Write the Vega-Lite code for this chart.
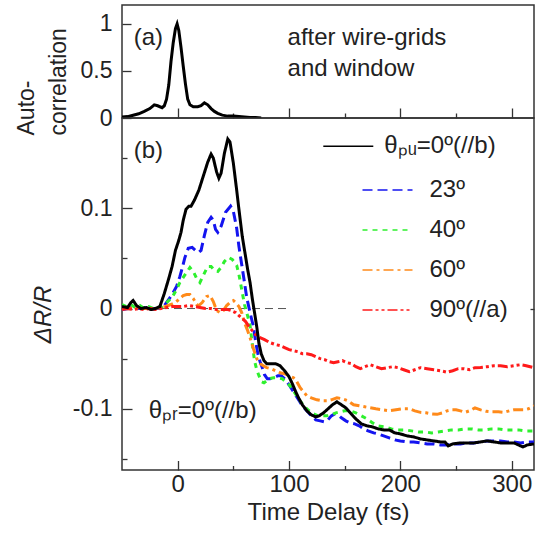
{
 "$schema": "https://vega.github.io/schema/vega-lite/v6.json",
 "padding": {"left": 14, "top": 4, "right": 6, "bottom": 2},
 "spacing": 0,
 "bounds": "flush",
 "config": {
  "font": "Liberation Sans",
  "view": {"stroke": "#333", "strokeWidth": 1.5},
  "axis": {"domain": false, "grid": false, "tickColor": "#333", "tickWidth": 1.3, "labelFont": "Liberation Sans", "labelFontSize": 23, "labelColor": "#222", "titleFont": "Liberation Sans", "titleFontSize": 24, "titleFontWeight": "normal", "titleColor": "#222"},
  "legend": {"labelFont": "Liberation Sans", "labelColor": "#222", "labelFontSize": 24, "padding": 0}
 },
 "datasets": {
  "ac": [
   {"t": -50, "v": 0.01}, {"t": -45, "v": 0.015}, {"t": -40, "v": 0.03}, {"t": -35, "v": 0.045}, {"t": -30, "v": 0.07}, {"t": -25, "v": 0.1}, {"t": -21, "v": 0.14}, {"t": -18, "v": 0.13}, {"t": -14, "v": 0.11}, {"t": -12, "v": 0.13}, {"t": -10, "v": 0.2}, {"t": -8, "v": 0.35}, {"t": -6, "v": 0.6}, {"t": -4, "v": 0.8}, {"t": -2, "v": 0.95}, {"t": -0.5, "v": 1.0}, {"t": 1, "v": 0.93}, {"t": 3, "v": 0.75}, {"t": 5, "v": 0.55}, {"t": 7, "v": 0.36}, {"t": 9, "v": 0.2}, {"t": 11, "v": 0.14}, {"t": 14, "v": 0.12}, {"t": 18, "v": 0.12}, {"t": 21, "v": 0.13}, {"t": 24, "v": 0.16}, {"t": 27, "v": 0.14}, {"t": 30, "v": 0.1}, {"t": 33, "v": 0.07}, {"t": 36, "v": 0.05}, {"t": 40, "v": 0.03}, {"t": 45, "v": 0.02}, {"t": 50, "v": 0.02}, {"t": 55, "v": 0.015}, {"t": 60, "v": 0.01}, {"t": 65, "v": 0.005}, {"t": 70, "v": 0.005}, {"t": 75, "v": 0.0}
  ],
  "one": [{}],
  "curves": [
   {"s": "θₚᵤ=0º(//b)", "t": -50, "v": 0.002}, {"s": "θₚᵤ=0º(//b)", "t": -45, "v": 0.001}, {"s": "θₚᵤ=0º(//b)", "t": -42, "v": 0.006}, {"s": "θₚᵤ=0º(//b)", "t": -40, "v": 0.008}, {"s": "θₚᵤ=0º(//b)", "t": -37, "v": 0.003}, {"s": "θₚᵤ=0º(//b)", "t": -33, "v": 0.0}, {"s": "θₚᵤ=0º(//b)", "t": -28, "v": 0.001}, {"s": "θₚᵤ=0º(//b)", "t": -24, "v": -0.001}, {"s": "θₚᵤ=0º(//b)", "t": -20, "v": 0.0}, {"s": "θₚᵤ=0º(//b)", "t": -16, "v": 0.002}, {"s": "θₚᵤ=0º(//b)", "t": -12, "v": 0.015}, {"s": "θₚᵤ=0º(//b)", "t": -8, "v": 0.03}, {"s": "θₚᵤ=0º(//b)", "t": -5, "v": 0.042}, {"s": "θₚᵤ=0º(//b)", "t": -2, "v": 0.058}, {"s": "θₚᵤ=0º(//b)", "t": 1, "v": 0.068}, {"s": "θₚᵤ=0º(//b)", "t": 3, "v": 0.076}, {"s": "θₚᵤ=0º(//b)", "t": 5, "v": 0.088}, {"s": "θₚᵤ=0º(//b)", "t": 7.5, "v": 0.099}, {"s": "θₚᵤ=0º(//b)", "t": 10, "v": 0.102}, {"s": "θₚᵤ=0º(//b)", "t": 12, "v": 0.102}, {"s": "θₚᵤ=0º(//b)", "t": 15, "v": 0.108}, {"s": "θₚᵤ=0º(//b)", "t": 19, "v": 0.118}, {"s": "θₚᵤ=0º(//b)", "t": 23, "v": 0.132}, {"s": "θₚᵤ=0º(//b)", "t": 27, "v": 0.146}, {"s": "θₚᵤ=0º(//b)", "t": 30, "v": 0.154}, {"s": "θₚᵤ=0º(//b)", "t": 32, "v": 0.15}, {"s": "θₚᵤ=0º(//b)", "t": 35, "v": 0.136}, {"s": "θₚᵤ=0º(//b)", "t": 37, "v": 0.13}, {"s": "θₚᵤ=0º(//b)", "t": 39, "v": 0.135}, {"s": "θₚᵤ=0º(//b)", "t": 42, "v": 0.155}, {"s": "θₚᵤ=0º(//b)", "t": 45, "v": 0.169}, {"s": "θₚᵤ=0º(//b)", "t": 47, "v": 0.166}, {"s": "θₚᵤ=0º(//b)", "t": 50, "v": 0.145}, {"s": "θₚᵤ=0º(//b)", "t": 53, "v": 0.118}, {"s": "θₚᵤ=0º(//b)", "t": 55, "v": 0.099}, {"s": "θₚᵤ=0º(//b)", "t": 58, "v": 0.072}, {"s": "θₚᵤ=0º(//b)", "t": 60.5, "v": 0.055}, {"s": "θₚᵤ=0º(//b)", "t": 63, "v": 0.038}, {"s": "θₚᵤ=0º(//b)", "t": 65, "v": 0.026}, {"s": "θₚᵤ=0º(//b)", "t": 67, "v": 0.01}, {"s": "θₚᵤ=0º(//b)", "t": 69, "v": -0.004}, {"s": "θₚᵤ=0º(//b)", "t": 71, "v": -0.018}, {"s": "θₚᵤ=0º(//b)", "t": 73, "v": -0.035}, {"s": "θₚᵤ=0º(//b)", "t": 75, "v": -0.045}, {"s": "θₚᵤ=0º(//b)", "t": 77.5, "v": -0.052}, {"s": "θₚᵤ=0º(//b)", "t": 80, "v": -0.055}, {"s": "θₚᵤ=0º(//b)", "t": 84, "v": -0.055}, {"s": "θₚᵤ=0º(//b)", "t": 88, "v": -0.055}, {"s": "θₚᵤ=0º(//b)", "t": 92, "v": -0.057}, {"s": "θₚᵤ=0º(//b)", "t": 96, "v": -0.062}, {"s": "θₚᵤ=0º(//b)", "t": 100, "v": -0.068}, {"s": "θₚᵤ=0º(//b)", "t": 103, "v": -0.075}, {"s": "θₚᵤ=0º(//b)", "t": 106, "v": -0.083}, {"s": "θₚᵤ=0º(//b)", "t": 109, "v": -0.09}, {"s": "θₚᵤ=0º(//b)", "t": 112, "v": -0.096}, {"s": "θₚᵤ=0º(//b)", "t": 116, "v": -0.102}, {"s": "θₚᵤ=0º(//b)", "t": 120, "v": -0.106}, {"s": "θₚᵤ=0º(//b)", "t": 124, "v": -0.108}, {"s": "θₚᵤ=0º(//b)", "t": 127, "v": -0.107}, {"s": "θₚᵤ=0º(//b)", "t": 131, "v": -0.104}, {"s": "θₚᵤ=0º(//b)", "t": 135, "v": -0.1}, {"s": "θₚᵤ=0º(//b)", "t": 139, "v": -0.096}, {"s": "θₚᵤ=0º(//b)", "t": 143, "v": -0.093}, {"s": "θₚᵤ=0º(//b)", "t": 147, "v": -0.096}, {"s": "θₚᵤ=0º(//b)", "t": 151, "v": -0.099}, {"s": "θₚᵤ=0º(//b)", "t": 155, "v": -0.104}, {"s": "θₚᵤ=0º(//b)", "t": 160, "v": -0.11}, {"s": "θₚᵤ=0º(//b)", "t": 165, "v": -0.115}, {"s": "θₚᵤ=0º(//b)", "t": 170, "v": -0.117}, {"s": "θₚᵤ=0º(//b)", "t": 175, "v": -0.118}, {"s": "θₚᵤ=0º(//b)", "t": 180, "v": -0.12}, {"s": "θₚᵤ=0º(//b)", "t": 185, "v": -0.121}, {"s": "θₚᵤ=0º(//b)", "t": 190, "v": -0.121}, {"s": "θₚᵤ=0º(//b)", "t": 195, "v": -0.124}, {"s": "θₚᵤ=0º(//b)", "t": 200, "v": -0.125}, {"s": "θₚᵤ=0º(//b)", "t": 206, "v": -0.127}, {"s": "θₚᵤ=0º(//b)", "t": 212, "v": -0.128}, {"s": "θₚᵤ=0º(//b)", "t": 218, "v": -0.13}, {"s": "θₚᵤ=0º(//b)", "t": 224, "v": -0.131}, {"s": "θₚᵤ=0º(//b)", "t": 230, "v": -0.132}, {"s": "θₚᵤ=0º(//b)", "t": 236, "v": -0.133}, {"s": "θₚᵤ=0º(//b)", "t": 240, "v": -0.133}, {"s": "θₚᵤ=0º(//b)", "t": 243, "v": -0.137}, {"s": "θₚᵤ=0º(//b)", "t": 247, "v": -0.135}, {"s": "θₚᵤ=0º(//b)", "t": 254, "v": -0.134}, {"s": "θₚᵤ=0º(//b)", "t": 260, "v": -0.134}, {"s": "θₚᵤ=0º(//b)", "t": 266, "v": -0.134}, {"s": "θₚᵤ=0º(//b)", "t": 272, "v": -0.133}, {"s": "θₚᵤ=0º(//b)", "t": 278, "v": -0.132}, {"s": "θₚᵤ=0º(//b)", "t": 284, "v": -0.133}, {"s": "θₚᵤ=0º(//b)", "t": 290, "v": -0.134}, {"s": "θₚᵤ=0º(//b)", "t": 296, "v": -0.134}, {"s": "θₚᵤ=0º(//b)", "t": 302, "v": -0.134}, {"s": "θₚᵤ=0º(//b)", "t": 306, "v": -0.136}, {"s": "θₚᵤ=0º(//b)", "t": 310, "v": -0.138}, {"s": "θₚᵤ=0º(//b)", "t": 314, "v": -0.136}, {"s": "θₚᵤ=0º(//b)", "t": 320, "v": -0.135},
   {"s": "23º", "t": -50, "v": -0.001}, {"s": "23º", "t": -45, "v": 0.0}, {"s": "23º", "t": -40, "v": 0.002}, {"s": "23º", "t": -35, "v": 0.0}, {"s": "23º", "t": -30, "v": 0.001}, {"s": "23º", "t": -25, "v": -0.001}, {"s": "23º", "t": -20, "v": 0.0}, {"s": "23º", "t": -17, "v": 0.0}, {"s": "23º", "t": -12, "v": 0.003}, {"s": "23º", "t": -8, "v": 0.009}, {"s": "23º", "t": -4, "v": 0.016}, {"s": "23º", "t": -1, "v": 0.022}, {"s": "23º", "t": 2, "v": 0.032}, {"s": "23º", "t": 4, "v": 0.04}, {"s": "23º", "t": 6.5, "v": 0.051}, {"s": "23º", "t": 9.5, "v": 0.06}, {"s": "23º", "t": 13, "v": 0.061}, {"s": "23º", "t": 16, "v": 0.058}, {"s": "23º", "t": 19, "v": 0.056}, {"s": "23º", "t": 21, "v": 0.058}, {"s": "23º", "t": 24, "v": 0.073}, {"s": "23º", "t": 27, "v": 0.086}, {"s": "23º", "t": 30, "v": 0.091}, {"s": "23º", "t": 32, "v": 0.088}, {"s": "23º", "t": 34, "v": 0.079}, {"s": "23º", "t": 36, "v": 0.076}, {"s": "23º", "t": 39, "v": 0.082}, {"s": "23º", "t": 43, "v": 0.096}, {"s": "23º", "t": 47.5, "v": 0.102}, {"s": "23º", "t": 50, "v": 0.097}, {"s": "23º", "t": 53, "v": 0.08}, {"s": "23º", "t": 55, "v": 0.062}, {"s": "23º", "t": 57.5, "v": 0.044}, {"s": "23º", "t": 60, "v": 0.026}, {"s": "23º", "t": 62, "v": 0.011}, {"s": "23º", "t": 65, "v": -0.004}, {"s": "23º", "t": 68, "v": -0.018}, {"s": "23º", "t": 70, "v": -0.033}, {"s": "23º", "t": 72, "v": -0.045}, {"s": "23º", "t": 74, "v": -0.053}, {"s": "23º", "t": 76, "v": -0.059}, {"s": "23º", "t": 78, "v": -0.066}, {"s": "23º", "t": 80.5, "v": -0.07}, {"s": "23º", "t": 83, "v": -0.07}, {"s": "23º", "t": 86, "v": -0.069}, {"s": "23º", "t": 90, "v": -0.067}, {"s": "23º", "t": 93, "v": -0.067}, {"s": "23º", "t": 97, "v": -0.071}, {"s": "23º", "t": 100, "v": -0.076}, {"s": "23º", "t": 104, "v": -0.083}, {"s": "23º", "t": 108, "v": -0.09}, {"s": "23º", "t": 112, "v": -0.097}, {"s": "23º", "t": 116, "v": -0.102}, {"s": "23º", "t": 120, "v": -0.107}, {"s": "23º", "t": 124, "v": -0.111}, {"s": "23º", "t": 128, "v": -0.112}, {"s": "23º", "t": 132, "v": -0.113}, {"s": "23º", "t": 135, "v": -0.111}, {"s": "23º", "t": 138, "v": -0.107}, {"s": "23º", "t": 141, "v": -0.105}, {"s": "23º", "t": 144, "v": -0.106}, {"s": "23º", "t": 147, "v": -0.109}, {"s": "23º", "t": 151, "v": -0.112}, {"s": "23º", "t": 155, "v": -0.114}, {"s": "23º", "t": 159, "v": -0.115}, {"s": "23º", "t": 163, "v": -0.117}, {"s": "23º", "t": 167, "v": -0.12}, {"s": "23º", "t": 171, "v": -0.122}, {"s": "23º", "t": 176, "v": -0.124}, {"s": "23º", "t": 180, "v": -0.125}, {"s": "23º", "t": 185, "v": -0.127}, {"s": "23º", "t": 190, "v": -0.129}, {"s": "23º", "t": 195, "v": -0.131}, {"s": "23º", "t": 200, "v": -0.132}, {"s": "23º", "t": 206, "v": -0.133}, {"s": "23º", "t": 212, "v": -0.133}, {"s": "23º", "t": 218, "v": -0.134}, {"s": "23º", "t": 224, "v": -0.135}, {"s": "23º", "t": 230, "v": -0.135}, {"s": "23º", "t": 236, "v": -0.136}, {"s": "23º", "t": 242, "v": -0.136}, {"s": "23º", "t": 248, "v": -0.135}, {"s": "23º", "t": 254, "v": -0.135}, {"s": "23º", "t": 260, "v": -0.134}, {"s": "23º", "t": 266, "v": -0.134}, {"s": "23º", "t": 272, "v": -0.133}, {"s": "23º", "t": 278, "v": -0.132}, {"s": "23º", "t": 284, "v": -0.132}, {"s": "23º", "t": 290, "v": -0.132}, {"s": "23º", "t": 296, "v": -0.133}, {"s": "23º", "t": 302, "v": -0.133}, {"s": "23º", "t": 308, "v": -0.134}, {"s": "23º", "t": 314, "v": -0.133}, {"s": "23º", "t": 320, "v": -0.133},
   {"s": "40º", "t": -50, "v": 0.004}, {"s": "40º", "t": -46, "v": 0.002}, {"s": "40º", "t": -42, "v": 0.004}, {"s": "40º", "t": -38, "v": 0.001}, {"s": "40º", "t": -34, "v": 0.003}, {"s": "40º", "t": -30, "v": 0.0}, {"s": "40º", "t": -26, "v": 0.002}, {"s": "40º", "t": -22, "v": 0.0}, {"s": "40º", "t": -18, "v": 0.001}, {"s": "40º", "t": -14, "v": 0.002}, {"s": "40º", "t": -10, "v": 0.006}, {"s": "40º", "t": -5, "v": 0.011}, {"s": "40º", "t": -1, "v": 0.019}, {"s": "40º", "t": 2, "v": 0.026}, {"s": "40º", "t": 5, "v": 0.031}, {"s": "40º", "t": 8, "v": 0.036}, {"s": "40º", "t": 11, "v": 0.041}, {"s": "40º", "t": 14, "v": 0.037}, {"s": "40º", "t": 17, "v": 0.03}, {"s": "40º", "t": 20, "v": 0.026}, {"s": "40º", "t": 23, "v": 0.033}, {"s": "40º", "t": 27, "v": 0.042}, {"s": "40º", "t": 30, "v": 0.042}, {"s": "40º", "t": 33, "v": 0.038}, {"s": "40º", "t": 36, "v": 0.037}, {"s": "40º", "t": 39, "v": 0.041}, {"s": "40º", "t": 42, "v": 0.047}, {"s": "40º", "t": 45.5, "v": 0.051}, {"s": "40º", "t": 49, "v": 0.049}, {"s": "40º", "t": 53, "v": 0.043}, {"s": "40º", "t": 55, "v": 0.034}, {"s": "40º", "t": 57, "v": 0.022}, {"s": "40º", "t": 60, "v": 0.004}, {"s": "40º", "t": 63, "v": -0.008}, {"s": "40º", "t": 65, "v": -0.017}, {"s": "40º", "t": 67, "v": -0.035}, {"s": "40º", "t": 69, "v": -0.052}, {"s": "40º", "t": 71, "v": -0.061}, {"s": "40º", "t": 73, "v": -0.067}, {"s": "40º", "t": 75.5, "v": -0.073}, {"s": "40º", "t": 77.5, "v": -0.074}, {"s": "40º", "t": 80, "v": -0.072}, {"s": "40º", "t": 82, "v": -0.07}, {"s": "40º", "t": 86, "v": -0.069}, {"s": "40º", "t": 90, "v": -0.069}, {"s": "40º", "t": 94, "v": -0.07}, {"s": "40º", "t": 98, "v": -0.074}, {"s": "40º", "t": 101, "v": -0.077}, {"s": "40º", "t": 105, "v": -0.084}, {"s": "40º", "t": 110, "v": -0.092}, {"s": "40º", "t": 114, "v": -0.098}, {"s": "40º", "t": 118, "v": -0.102}, {"s": "40º", "t": 122, "v": -0.105}, {"s": "40º", "t": 126, "v": -0.107}, {"s": "40º", "t": 130, "v": -0.107}, {"s": "40º", "t": 134, "v": -0.107}, {"s": "40º", "t": 138, "v": -0.106}, {"s": "40º", "t": 142, "v": -0.104}, {"s": "40º", "t": 146, "v": -0.103}, {"s": "40º", "t": 150, "v": -0.102}, {"s": "40º", "t": 155, "v": -0.102}, {"s": "40º", "t": 160, "v": -0.104}, {"s": "40º", "t": 165, "v": -0.107}, {"s": "40º", "t": 170, "v": -0.11}, {"s": "40º", "t": 175, "v": -0.114}, {"s": "40º", "t": 180, "v": -0.117}, {"s": "40º", "t": 186, "v": -0.118}, {"s": "40º", "t": 192, "v": -0.12}, {"s": "40º", "t": 198, "v": -0.121}, {"s": "40º", "t": 204, "v": -0.121}, {"s": "40º", "t": 210, "v": -0.122}, {"s": "40º", "t": 216, "v": -0.123}, {"s": "40º", "t": 222, "v": -0.123}, {"s": "40º", "t": 228, "v": -0.124}, {"s": "40º", "t": 234, "v": -0.123}, {"s": "40º", "t": 240, "v": -0.122}, {"s": "40º", "t": 246, "v": -0.121}, {"s": "40º", "t": 252, "v": -0.121}, {"s": "40º", "t": 258, "v": -0.12}, {"s": "40º", "t": 264, "v": -0.12}, {"s": "40º", "t": 270, "v": -0.121}, {"s": "40º", "t": 276, "v": -0.121}, {"s": "40º", "t": 282, "v": -0.12}, {"s": "40º", "t": 288, "v": -0.12}, {"s": "40º", "t": 294, "v": -0.121}, {"s": "40º", "t": 300, "v": -0.121}, {"s": "40º", "t": 306, "v": -0.121}, {"s": "40º", "t": 312, "v": -0.122}, {"s": "40º", "t": 320, "v": -0.122},
   {"s": "60º", "t": -50, "v": 0.0}, {"s": "60º", "t": -45, "v": 0.001}, {"s": "60º", "t": -40, "v": 0.0}, {"s": "60º", "t": -35, "v": 0.001}, {"s": "60º", "t": -30, "v": 0.0}, {"s": "60º", "t": -25, "v": 0.0}, {"s": "60º", "t": -20, "v": 0.0}, {"s": "60º", "t": -15, "v": 0.001}, {"s": "60º", "t": -11, "v": 0.002}, {"s": "60º", "t": -6, "v": 0.004}, {"s": "60º", "t": -2, "v": 0.006}, {"s": "60º", "t": 2, "v": 0.01}, {"s": "60º", "t": 5, "v": 0.013}, {"s": "60º", "t": 8, "v": 0.014}, {"s": "60º", "t": 11, "v": 0.014}, {"s": "60º", "t": 14, "v": 0.01}, {"s": "60º", "t": 17, "v": 0.004}, {"s": "60º", "t": 19, "v": 0.003}, {"s": "60º", "t": 22, "v": 0.006}, {"s": "60º", "t": 26, "v": 0.012}, {"s": "60º", "t": 29, "v": 0.013}, {"s": "60º", "t": 32, "v": 0.007}, {"s": "60º", "t": 35, "v": -0.002}, {"s": "60º", "t": 38, "v": -0.004}, {"s": "60º", "t": 41, "v": -0.002}, {"s": "60º", "t": 44, "v": 0.003}, {"s": "60º", "t": 47, "v": 0.006}, {"s": "60º", "t": 50, "v": 0.008}, {"s": "60º", "t": 52, "v": 0.006}, {"s": "60º", "t": 55, "v": 0.002}, {"s": "60º", "t": 57.5, "v": -0.004}, {"s": "60º", "t": 60, "v": -0.014}, {"s": "60º", "t": 62.5, "v": -0.021}, {"s": "60º", "t": 65, "v": -0.029}, {"s": "60º", "t": 68, "v": -0.04}, {"s": "60º", "t": 71, "v": -0.05}, {"s": "60º", "t": 74, "v": -0.055}, {"s": "60º", "t": 77, "v": -0.057}, {"s": "60º", "t": 80, "v": -0.059}, {"s": "60º", "t": 84, "v": -0.06}, {"s": "60º", "t": 88, "v": -0.062}, {"s": "60º", "t": 92, "v": -0.064}, {"s": "60º", "t": 96, "v": -0.065}, {"s": "60º", "t": 100, "v": -0.067}, {"s": "60º", "t": 104, "v": -0.069}, {"s": "60º", "t": 107, "v": -0.073}, {"s": "60º", "t": 110, "v": -0.079}, {"s": "60º", "t": 113, "v": -0.083}, {"s": "60º", "t": 116, "v": -0.087}, {"s": "60º", "t": 120, "v": -0.089}, {"s": "60º", "t": 125, "v": -0.091}, {"s": "60º", "t": 130, "v": -0.092}, {"s": "60º", "t": 134, "v": -0.092}, {"s": "60º", "t": 138, "v": -0.091}, {"s": "60º", "t": 143, "v": -0.089}, {"s": "60º", "t": 148, "v": -0.09}, {"s": "60º", "t": 153, "v": -0.092}, {"s": "60º", "t": 158, "v": -0.096}, {"s": "60º", "t": 163, "v": -0.097}, {"s": "60º", "t": 168, "v": -0.098}, {"s": "60º", "t": 173, "v": -0.099}, {"s": "60º", "t": 178, "v": -0.1}, {"s": "60º", "t": 184, "v": -0.101}, {"s": "60º", "t": 190, "v": -0.102}, {"s": "60º", "t": 196, "v": -0.101}, {"s": "60º", "t": 202, "v": -0.1}, {"s": "60º", "t": 208, "v": -0.1}, {"s": "60º", "t": 213, "v": -0.102}, {"s": "60º", "t": 218, "v": -0.1035}, {"s": "60º", "t": 223, "v": -0.104}, {"s": "60º", "t": 228, "v": -0.105}, {"s": "60º", "t": 233, "v": -0.1055}, {"s": "60º", "t": 238, "v": -0.104}, {"s": "60º", "t": 242, "v": -0.102}, {"s": "60º", "t": 246, "v": -0.101}, {"s": "60º", "t": 250, "v": -0.101}, {"s": "60º", "t": 254, "v": -0.102}, {"s": "60º", "t": 258, "v": -0.1035}, {"s": "60º", "t": 262, "v": -0.102}, {"s": "60º", "t": 267, "v": -0.099}, {"s": "60º", "t": 272, "v": -0.101}, {"s": "60º", "t": 277, "v": -0.1025}, {"s": "60º", "t": 282, "v": -0.103}, {"s": "60º", "t": 288, "v": -0.103}, {"s": "60º", "t": 293, "v": -0.1035}, {"s": "60º", "t": 298, "v": -0.102}, {"s": "60º", "t": 302, "v": -0.101}, {"s": "60º", "t": 306, "v": -0.101}, {"s": "60º", "t": 311, "v": -0.101}, {"s": "60º", "t": 315, "v": -0.1}, {"s": "60º", "t": 320, "v": -0.097},
   {"s": "90º(//a)", "t": -50, "v": -0.001}, {"s": "90º(//a)", "t": -45, "v": 0.0}, {"s": "90º(//a)", "t": -40, "v": -0.001}, {"s": "90º(//a)", "t": -35, "v": 0.0}, {"s": "90º(//a)", "t": -30, "v": -0.001}, {"s": "90º(//a)", "t": -25, "v": 0.0}, {"s": "90º(//a)", "t": -20, "v": -0.001}, {"s": "90º(//a)", "t": -15, "v": 0.0}, {"s": "90º(//a)", "t": -10, "v": 0.001}, {"s": "90º(//a)", "t": -5, "v": 0.002}, {"s": "90º(//a)", "t": 0, "v": 0.002}, {"s": "90º(//a)", "t": 5, "v": 0.002}, {"s": "90º(//a)", "t": 10, "v": 0.003}, {"s": "90º(//a)", "t": 15, "v": 0.002}, {"s": "90º(//a)", "t": 20, "v": 0.001}, {"s": "90º(//a)", "t": 25, "v": 0.0}, {"s": "90º(//a)", "t": 30, "v": 0.0}, {"s": "90º(//a)", "t": 35, "v": -0.001}, {"s": "90º(//a)", "t": 40, "v": -0.001}, {"s": "90º(//a)", "t": 45, "v": -0.001}, {"s": "90º(//a)", "t": 48, "v": -0.002}, {"s": "90º(//a)", "t": 52, "v": -0.004}, {"s": "90º(//a)", "t": 55, "v": -0.007}, {"s": "90º(//a)", "t": 58, "v": -0.01}, {"s": "90º(//a)", "t": 61, "v": -0.013}, {"s": "90º(//a)", "t": 64, "v": -0.018}, {"s": "90º(//a)", "t": 67, "v": -0.022}, {"s": "90º(//a)", "t": 70, "v": -0.026}, {"s": "90º(//a)", "t": 74, "v": -0.029}, {"s": "90º(//a)", "t": 78, "v": -0.031}, {"s": "90º(//a)", "t": 83, "v": -0.034}, {"s": "90º(//a)", "t": 88, "v": -0.036}, {"s": "90º(//a)", "t": 92, "v": -0.037}, {"s": "90º(//a)", "t": 96, "v": -0.039}, {"s": "90º(//a)", "t": 100, "v": -0.041}, {"s": "90º(//a)", "t": 104, "v": -0.042}, {"s": "90º(//a)", "t": 108, "v": -0.043}, {"s": "90º(//a)", "t": 112, "v": -0.045}, {"s": "90º(//a)", "t": 116, "v": -0.045}, {"s": "90º(//a)", "t": 120, "v": -0.046}, {"s": "90º(//a)", "t": 124, "v": -0.048}, {"s": "90º(//a)", "t": 128, "v": -0.05}, {"s": "90º(//a)", "t": 132, "v": -0.051}, {"s": "90º(//a)", "t": 136, "v": -0.053}, {"s": "90º(//a)", "t": 140, "v": -0.054}, {"s": "90º(//a)", "t": 144, "v": -0.053}, {"s": "90º(//a)", "t": 148, "v": -0.052}, {"s": "90º(//a)", "t": 152, "v": -0.054}, {"s": "90º(//a)", "t": 156, "v": -0.055}, {"s": "90º(//a)", "t": 160, "v": -0.058}, {"s": "90º(//a)", "t": 164, "v": -0.06}, {"s": "90º(//a)", "t": 168, "v": -0.058}, {"s": "90º(//a)", "t": 173, "v": -0.056}, {"s": "90º(//a)", "t": 178, "v": -0.058}, {"s": "90º(//a)", "t": 183, "v": -0.06}, {"s": "90º(//a)", "t": 188, "v": -0.059}, {"s": "90º(//a)", "t": 193, "v": -0.058}, {"s": "90º(//a)", "t": 198, "v": -0.059}, {"s": "90º(//a)", "t": 203, "v": -0.061}, {"s": "90º(//a)", "t": 208, "v": -0.063}, {"s": "90º(//a)", "t": 213, "v": -0.061}, {"s": "90º(//a)", "t": 218, "v": -0.059}, {"s": "90º(//a)", "t": 224, "v": -0.06}, {"s": "90º(//a)", "t": 230, "v": -0.061}, {"s": "90º(//a)", "t": 236, "v": -0.062}, {"s": "90º(//a)", "t": 242, "v": -0.0635}, {"s": "90º(//a)", "t": 247, "v": -0.062}, {"s": "90º(//a)", "t": 252, "v": -0.06}, {"s": "90º(//a)", "t": 257, "v": -0.06}, {"s": "90º(//a)", "t": 262, "v": -0.061}, {"s": "90º(//a)", "t": 267, "v": -0.059}, {"s": "90º(//a)", "t": 272, "v": -0.0587}, {"s": "90º(//a)", "t": 278, "v": -0.058}, {"s": "90º(//a)", "t": 284, "v": -0.057}, {"s": "90º(//a)", "t": 290, "v": -0.057}, {"s": "90º(//a)", "t": 296, "v": -0.058}, {"s": "90º(//a)", "t": 302, "v": -0.057}, {"s": "90º(//a)", "t": 308, "v": -0.056}, {"s": "90º(//a)", "t": 313, "v": -0.057}, {"s": "90º(//a)", "t": 320, "v": -0.059}
  ]
 },
 "vconcat": [
  {
   "width": 412,
   "height": 113,
   "layer": [
    {
     "data": {"name": "ac"},
     "mark": {"type": "line", "color": "#000", "strokeWidth": 3, "clip": true},
     "encoding": {
      "x": {"field": "t", "type": "quantitative", "scale": {"domain": [-50, 320], "nice": false, "zero": false},
            "axis": {"values": [0, 100, 200, 300], "labels": false, "tickSize": -10, "title": null, "orient": "bottom"}},
      "y": {"field": "v", "type": "quantitative", "scale": {"domain": [0, 1.2], "nice": false},
            "axis": {"values": [0, 0.5, 1], "tickSize": -9, "labelPadding": 19, "labelExpr": "datum.value == 0.5 ? '0.5' : format(datum.value, 'd')", "orient": "left",
                     "title": ["Auto-", "correlation"], "titleFontSize": 23, "titleAngle": -90, "titleX": -96, "titleY": 130, "titleAlign": "left", "titleBaseline": "middle", "titleLineHeight": 32}}
     }
    },
    {
     "data": {"name": "one"},
     "mark": {"type": "text", "text": "(a)", "fontSize": 24, "align": "left", "baseline": "middle", "color": "#222"},
     "encoding": {
      "x": {"datum": -39.5, "type": "quantitative", "axis": {"values": [50, 150, 250], "labels": false, "tickSize": -5, "title": null, "orient": "bottom"}},
      "y": {"datum": 0.85, "type": "quantitative", "axis": null}
     }
    },
    {
     "data": {"name": "one"},
     "mark": {"type": "text", "text": ["after wire-grids", "and window"], "fontSize": 24, "lineHeight": 31, "align": "left", "baseline": "middle", "color": "#222"},
     "encoding": {
      "x": {"datum": 98.7, "type": "quantitative", "axis": null},
      "y": {"datum": 0.85, "type": "quantitative", "axis": null}
     }
    }
   ],
   "resolve": {"axis": {"x": "independent", "y": "independent"}}
  },
  {
   "width": 412,
   "height": 352,
   "layer": [
    {
     "data": {"name": "one"},
     "mark": {"type": "rule", "strokeDash": [8, 5], "color": "#555", "strokeWidth": 1},
     "encoding": {
      "x": {"datum": -50, "type": "quantitative", "scale": {"domain": [-50, 320], "nice": false, "zero": false}, "axis": {"values": [50, 150, 250], "labels": false, "tickSize": -4.5, "title": null, "orient": "bottom"}},
      "x2": {"datum": 100},
      "y": {"datum": 0, "type": "quantitative", "scale": {"domain": [-0.161, 0.19], "nice": false, "zero": false}, "axis": {"values": [-0.15, -0.05, 0.05, 0.15], "labels": false, "tickSize": -5, "title": null, "orient": "left"}}
     }
    },
    {
     "data": {"name": "curves"},
     "transform": [{"filter": {"field": "s", "oneOf": ["23º", "40º", "60º", "90º(//a)"]}}],
     "mark": {"type": "line", "strokeWidth": 3, "clip": true},
     "encoding": {
      "x": {"field": "t", "type": "quantitative", "axis": null},
      "y": {"field": "v", "type": "quantitative", "axis": null},
      "color": {"field": "s", "type": "nominal", "sort": null,
                "scale": {"domain": ["23º", "40º", "60º", "90º(//a)"], "range": ["#1414f0", "#2ef02e", "#ff8a1a", "#ff1a1a"]},
                "legend": {"orient": "none", "legendX": 239.5, "legendY": 52, "title": null, "symbolType": "stroke", "symbolSize": 2500, "symbolStrokeWidth": 1.6, "labelOffset": 16, "clipHeight": 40, "rowPadding": 0}},
      "strokeDash": {"field": "s", "type": "nominal", "sort": null,
                "scale": {"domain": ["23º", "40º", "60º", "90º(//a)"], "range": [[10, 5], [5, 5], [10, 4, 3, 4], [10, 3, 3, 3, 3, 3]]},
                "legend": {"orient": "none", "legendX": 239.5, "legendY": 52, "title": null, "symbolType": "stroke", "symbolSize": 2500, "symbolStrokeWidth": 1.6, "labelOffset": 16, "clipHeight": 40, "rowPadding": 0}}
     }
    },
    {
     "data": {"name": "curves"},
     "transform": [{"filter": {"field": "s", "equal": "θₚᵤ=0º(//b)"}}],
     "mark": {"type": "line", "strokeWidth": 3, "clip": true},
     "encoding": {
      "x": {"field": "t", "type": "quantitative", "scale": {"domain": [-50, 320], "nice": false, "zero": false},
            "axis": {"values": [0, 100, 200, 300], "tickSize": -9.5, "labelPadding": 12, "title": "Time Delay (fs)", "labelFontSize": 24, "orient": "bottom"}},
      "y": {"field": "v", "type": "quantitative", "scale": {"domain": [-0.161, 0.19], "nice": false, "zero": false},
            "axis": {"values": [-0.1, 0, 0.1], "tickSize": -10, "labelPadding": 20, "orient": "left",
                     "labelExpr": "datum.value == 0 ? '0' : (datum.value < 0 ? '-' : '') + format(abs(datum.value), '.1f')",
                     "title": "ΔR/R", "titleFontStyle": "italic", "titleAngle": -90, "titleX": -79, "titleY": 196, "titleAlign": "center", "titleBaseline": "middle"}},
      "color": {"field": "s", "type": "nominal",
                "scale": {"domain": ["θₚᵤ=0º(//b)"], "range": ["#000000"]},
                "legend": {"orient": "none", "legendX": 200.3, "legendY": 8.3, "title": null, "symbolType": "stroke", "symbolSize": 2500, "symbolStrokeWidth": 1.6, "labelOffset": 10, "clipHeight": 40}},
      "strokeDash": {"field": "s", "type": "nominal",
                "scale": {"domain": ["θₚᵤ=0º(//b)"], "range": [[1, 0]]},
                "legend": {"orient": "none", "legendX": 200.3, "legendY": 8.3, "title": null, "symbolType": "stroke", "symbolSize": 2500, "symbolStrokeWidth": 1.6, "labelOffset": 10, "clipHeight": 40}}
     }
    },
    {
     "data": {"name": "one"},
     "mark": {"type": "text", "text": "(b)", "fontSize": 24, "align": "left", "baseline": "middle", "color": "#222"},
     "encoding": {
      "x": {"datum": -39.5, "type": "quantitative", "axis": null},
      "y": {"datum": 0.157, "type": "quantitative", "axis": {"values": [0], "labels": false, "tickSize": -4, "title": null, "orient": "right"}}
     }
    },
    {
     "data": {"name": "one"},
     "mark": {"type": "text", "text": "θₚᵣ=0º(//b)", "fontSize": 24, "align": "left", "baseline": "middle", "color": "#222"},
     "encoding": {
      "x": {"datum": -26, "type": "quantitative", "axis": null},
      "y": {"datum": -0.102, "type": "quantitative", "axis": null}
     }
    }
   ],
   "resolve": {"scale": {"color": "independent", "strokeDash": "independent"}, "axis": {"x": "independent", "y": "independent"}}
  }
 ]
}
